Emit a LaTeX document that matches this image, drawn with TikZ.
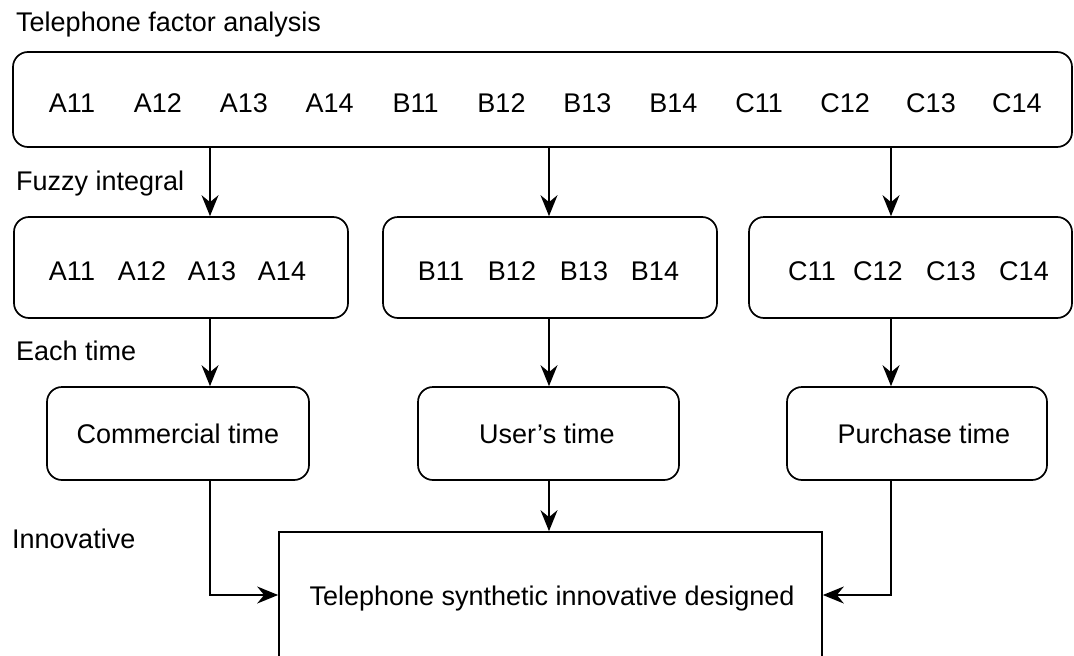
\documentclass[tikz,border=0pt]{standalone}
\usepackage{fontspec}
\setmainfont{Liberation Sans}
\usetikzlibrary{arrows.meta}
\begin{document}
\begin{tikzpicture}[x=1pt,y=-1pt,
  font=\fontsize{27}{32}\selectfont,
  rbox/.style={draw, line width=1.7pt, rounded corners=15pt, inner sep=0pt},
  sbox/.style={draw, line width=1.7pt, inner sep=0pt},
  item/.style={anchor=base, inner sep=0pt},
  lbl/.style={anchor=base west, inner sep=0pt},
  arr/.style={line width=1.9pt, -{Stealth[length=21pt,width=17pt,inset=7pt]}}]
\useasboundingbox (0,0) rectangle (1074,656);
\clip (0,0) rectangle (1074,656);

% side labels
\node[lbl] (l1) at (16,31) {Telephone factor analysis};
\node[lbl] (l2) at (16,190) {Fuzzy integral};
\node[lbl] (l3) at (16,360) {Each time};
\node[lbl] (l4) at (12,548) {Innovative};

% top box
\node[rbox, minimum width=1059pt, minimum height=95pt] (top) at (542.5,99.5) {};
\foreach \t [count=\i from 0] in {A11,A12,A13,A14,B11,B12,B13,B14,C11,C12,C13,C14}
  \node[item] (t\i) at ({72+85.9*\i},112) {\t};

% second row
\node[rbox, minimum width=334pt, minimum height=101pt] (a) at (181,267.5) {};
\node[rbox, minimum width=334pt, minimum height=101pt] (b) at (550,267.5) {};
\node[rbox, minimum width=323pt, minimum height=101pt] (c) at (910.5,267.5) {};
\node[item] (a1) at (72,280) {A11};
\node[item] (a2) at (142,280) {A12};
\node[item] (a3) at (212,280) {A13};
\node[item] (a4) at (282,280) {A14};
\node[item] (b1) at (441,280) {B11};
\node[item] (b2) at (512,280) {B12};
\node[item] (b3) at (584,280) {B13};
\node[item] (b4) at (655,280) {B14};
\node[item] (c1) at (812,280) {C11};
\node[item] (c2) at (878,280) {C12};
\node[item] (c3) at (951,280) {C13};
\node[item] (c4) at (1024,280) {C14};

% third row
\node[rbox, minimum width=262pt, minimum height=93pt] (comm) at (178,433.5) {};
\node[rbox, minimum width=261pt, minimum height=93pt] (user) at (548.5,433.5) {};
\node[rbox, minimum width=260pt, minimum height=93pt] (purch) at (917,433.5) {};
\node[item] (commt) at (178,443) {Commercial time};
\node[item] (usert) at (547,443) {User’s time};
\node[item] (purcht) at (924,443) {Purchase time};

% final box
\node[sbox, minimum width=543pt, minimum height=170pt] (final) at (550.5,617) {};
\node[item] (finalt) at (552,605) {Telephone synthetic innovative designed};

% connectors
\coordinate (cA) at (210,0);
\coordinate (cB) at (549,0);
\coordinate (cC) at (891,0);
\coordinate (cM) at (0,595);
\draw[arr] (top.south -| cA) -- (a.north -| cA);
\draw[arr] (top.south -| cB) -- (b.north -| cB);
\draw[arr] (top.south -| cC) -- (c.north -| cC);
\draw[arr] (a.south -| cA) -- (comm.north -| cA);
\draw[arr] (b.south -| cB) -- (user.north -| cB);
\draw[arr] (c.south -| cC) -- (purch.north -| cC);
\draw[arr] (user.south -| cB) -- (final.north -| cB);
\draw[arr] (comm.south -| cA) |- (final.west |- cM);
\draw[arr] (purch.south -| cC) |- (final.east |- cM);
\end{tikzpicture}
\end{document}
